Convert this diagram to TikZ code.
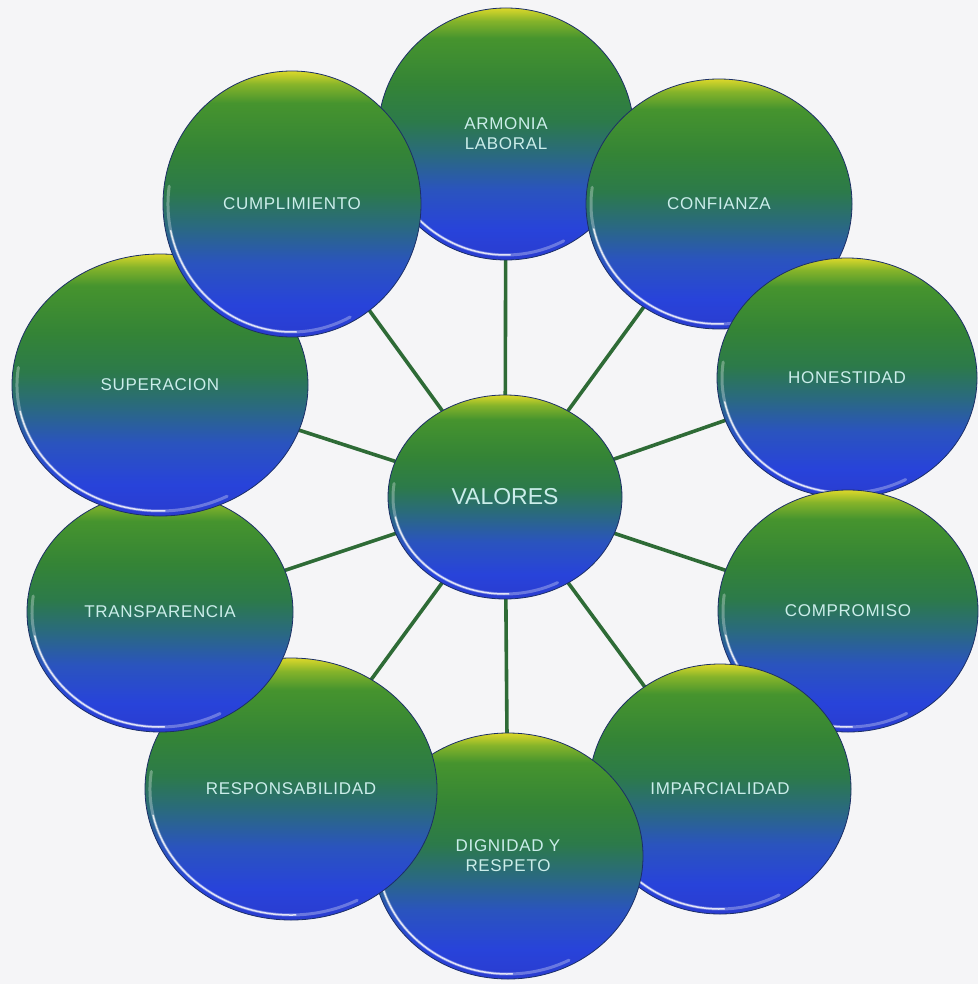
\documentclass[tikz,border=0pt]{standalone}
\usepackage{fontspec}
\setmainfont{Liberation Sans}
\usetikzlibrary{shapes.geometric}
\pgfdeclarelayer{bg}
\pgfdeclarelayer{lines}
\pgfsetlayers{bg,lines,main}
\definecolor{bgcol}{HTML}{F5F5F7}
\definecolor{cY}{HTML}{DCD82A}
\definecolor{cYG}{HTML}{86B42A}
\definecolor{cG0}{HTML}{46942E}
\definecolor{cG1}{HTML}{348436}
\definecolor{cG2}{HTML}{2C7A4A}
\definecolor{cT}{HTML}{2A6A7E}
\definecolor{cB1}{HTML}{2A54BE}
\definecolor{cB2}{HTML}{2843DA}
\definecolor{cB3}{HTML}{2A3CD0}
\definecolor{rim}{HTML}{1C2F66}
\definecolor{txt}{HTML}{CBEDEA}
\definecolor{linkcol}{HTML}{2E6B36}
\pgfdeclareverticalshading{orbshade}{100bp}{color(0bp)=(cB3); color(25bp)=(cB3); color(31bp)=(cB2); color(39bp)=(cB1); color(46bp)=(cT); color(52.5bp)=(cG2); color(60bp)=(cG1); color(69bp)=(cG0); color(72.5bp)=(cYG); color(75bp)=(cY); color(100bp)=(cY)}
\tikzset{
  orb/.style={ellipse, shading=orbshade, draw=rim, line width=0.8pt, inner sep=0pt,
    text=txt, align=center, font=\fontsize{17}{20}\selectfont\addfontfeature{LetterSpace=4}},
  link/.style={draw=linkcol, line width=3.6pt},
  hiA/.style={draw=white, line width=3pt, opacity=.3, line cap=round},
  hiB/.style={draw=white, line width=1.5pt, opacity=.8, line cap=round}
}
\newcommand\orbnode[7][]{%
  \node[orb, minimum width=2*#5 pt, minimum height=2*#6 pt, #1] (#2) at (#3,#4) {#7};
  \pgfmathsetmacro\rxa{#5-5}\pgfmathsetmacro\rya{#6-5}%
  \draw[hiA] ([shift={(172:\rxa pt and \rya pt)}]#2.center) arc[start angle=172, end angle=298, x radius=\rxa pt, y radius=\rya pt];
  \draw[hiB] ([shift={(192:\rxa pt and \rya pt)}]#2.center) arc[start angle=192, end angle=272, x radius=\rxa pt, y radius=\rya pt];
}
\begin{document}
\begin{tikzpicture}[x=1pt,y=-1pt]
\begin{pgfonlayer}{bg}
  \fill[bgcol] (0,0) rectangle (978,984);
\end{pgfonlayer}
\useasboundingbox (0,0) rectangle (978,984);
\orbnode{arm}{506}{134}{128}{126}{ARMONIA\\LABORAL}
\orbnode{con}{719}{204}{133}{125}{CONFIANZA}
\orbnode{hon}{847}{378}{130}{120}{HONESTIDAD}
\orbnode{com}{848}{611}{130}{121}{COMPROMISO}
\orbnode{imp}{720}{789}{131}{125}{IMPARCIALIDAD}
\orbnode{dig}{508}{856}{135}{123}{DIGNIDAD Y\\RESPETO}
\orbnode{res}{291}{789}{146}{131}{RESPONSABILIDAD}
\orbnode{tra}{160}{612}{133}{120}{TRANSPARENCIA}
\orbnode{sup}{160}{385}{148}{131}{SUPERACION}
\orbnode{cum}{292}{204}{129}{133}{CUMPLIMIENTO}
\orbnode[font=\fontsize{23}{26}\selectfont]{val}{505}{497}{117}{102}{VALORES}
\begin{pgfonlayer}{lines}
  \foreach \n in {arm,con,hon,com,imp,dig,res,tra,sup,cum}
    \draw[link] (val.center) -- (\n.center);
\end{pgfonlayer}
\end{tikzpicture}
\end{document}
